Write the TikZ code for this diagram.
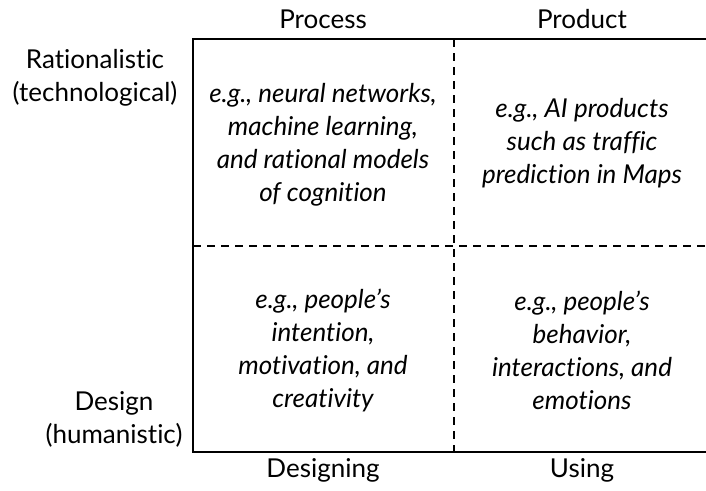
\documentclass[tikz,border=0pt]{standalone}
\usepackage{fontspec}
\setmainfont[Ligatures=NoCommon]{Lato}
\usetikzlibrary{positioning}

\begin{document}
\begin{tikzpicture}[x=1pt, y=-1pt, font=\fontsize{26}{33}\selectfont,
  cell/.style={align=center, font=\fontsize{26}{33}\selectfont\itshape},
  axis/.style={align=center, inner sep=0pt},
  frame/.style={line width=1.5pt},
  split/.style={line width=1.2pt, dash pattern=on 8pt off 6pt}]
\useasboundingbox (0,0) rectangle (706,490);
% Rahmen
\coordinate (tl) at (193,39);
\coordinate (bl) at (193,452);
\coordinate (tr) at (706,39);
\coordinate (br) at (706,452);
\coordinate (mt) at (454,39);
\coordinate (mb) at (454,452);
\coordinate (ml) at (193,246);
\coordinate (mr) at (706,246);
\draw[frame] (tr) -- (tl) -- (bl) -- (br);
\draw[split] (mt) -- (mb);
\draw[split] (ml) -- (mr);

% Felder
\node[cell] (procTech) at (323,145) {e.g., neural networks,\\machine learning,\\and rational models\\of cognition};
\node[cell] (prodTech) at (582,143) {e.g., AI products\\such as traffic\\prediction in Maps};
\node[cell] (procHum) at (323,350) {e.g., people's\\intention,\\motivation, and\\creativity};
\node[cell] (prodHum) at (582,350) {e.g., people's\\behavior,\\interactions, and\\emotions};

% Achsen
\node[axis, anchor=base] (process) at (323,28) {Process};
\node[axis, anchor=base] (product) at (582,28) {Product};
\node[axis, anchor=base] (designing) at (323,477) {Designing};
\node[axis, anchor=base] (using) at (582,477) {Using};
\node[axis] (rational) at (95,78) {Rationalistic\\(technological)};
\node[axis] (design) at (114,419) {Design\\(humanistic)};
\end{tikzpicture}
\end{document}
